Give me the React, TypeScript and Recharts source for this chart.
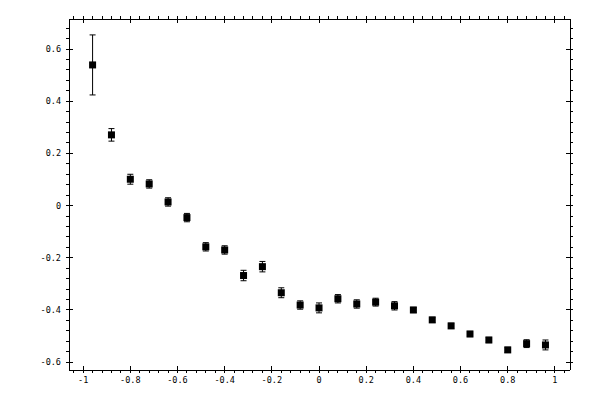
import { ScatterChart, Scatter, XAxis, YAxis, ErrorBar } from 'recharts';

// bin centres and measured values with their errors
const xBins = [
  -0.96, -0.88, -0.8, -0.72, -0.64, -0.56, -0.48, -0.4, -0.32, -0.24, -0.16, -0.08, 0,
  0.08, 0.16, 0.24, 0.32, 0.4, 0.48, 0.56, 0.64, 0.72, 0.8, 0.88, 0.96,
];
const yValues = [
  0.539, 0.271, 0.101, 0.083, 0.014, -0.046, -0.158, -0.17, -0.268, -0.234, -0.334, -0.381, -0.392,
  -0.357, -0.377, -0.37, -0.384, -0.4, -0.438, -0.461, -0.492, -0.515, -0.553, -0.529, -0.534,
];
const yErrors = [
  0.115, 0.024, 0.019, 0.016, 0.016, 0.016, 0.016, 0.016, 0.02, 0.02, 0.019, 0.016, 0.019,
  0.016, 0.016, 0.015, 0.016, 0.01, 0.01, 0.01, 0.01, 0.01, 0.01, 0.015, 0.019,
];

const xMajorTicks = [-1, -0.8, -0.6, -0.4, -0.2, 0, 0.2, 0.4, 0.6, 0.8, 1];
const yMajorTicks = [-0.6, -0.4, -0.2, 0, 0.2, 0.4, 0.6];

const xDomain = [-1.06, 1.064];
const yDomain = [-0.63, 0.715];

const data = xBins.map((x, i) => ({ x, y: yValues[i], err: yErrors[i] }));

// majors plus four minor ticks in between, clipped to the domain
function withMinors(majors: number[], domain: number[]) {
  const step = (majors[1] - majors[0]) / 5;
  const out: number[] = [];
  for (let k = -10; k < majors.length * 5 + 10; k++) {
    const v = Math.round((majors[0] + (k - 5) * step) * 1000) / 1000;
    if (v >= domain[0] && v <= domain[1] && !out.includes(v)) out.push(v);
  }
  return out.sort((a, b) => a - b);
}

const xTicks = withMinors(xMajorTicks, xDomain);
const yTicks = withMinors(yMajorTicks, yDomain);

const isMajor = (v: number) => Math.abs(v * 5 - Math.round(v * 5)) < 1e-6;
const fmt = (v: number) => String(Math.round(v * 10) / 10);

const font = { fontFamily: 'DejaVu Sans Mono', fontSize: 8.5, fill: '#000' };

function makeTick(side: 'bottom' | 'top' | 'left' | 'right') {
  return (props: any) => {
    const { x, y, payload } = props;
    const v = payload.value;
    const major = isMajor(v);
    const ln = { stroke: '#000', strokeWidth: 1, shapeRendering: 'crispEdges' as const };
    if (side === 'bottom') {
      return (
        <g>
          <line x1={x} x2={x} y1={major ? y - 4 : y} y2={y + 3} {...ln} />
          {major && <text x={x} y={y + 13} textAnchor="middle" {...font}>{fmt(v)}</text>}
        </g>
      );
    }
    if (side === 'top') {
      return <line x1={x} x2={x} y1={y - 3} y2={major ? y + 4 : y} {...ln} />;
    }
    if (side === 'left') {
      return (
        <g>
          <line x1={x - 3} x2={major ? x + 4 : x} y1={y} y2={y} {...ln} />
          {major && <text x={x - 8} y={y + 3} textAnchor="end" {...font}>{fmt(v)}</text>}
        </g>
      );
    }
    return <line x1={major ? x - 4 : x} x2={x + 3} y1={y} y2={y} {...ln} />;
  };
}

const SquareMarker = (props: any) => {
  const { cx, cy } = props;
  return <rect x={cx - 3.5} y={cy - 3.5} width={7} height={7} fill="#000" />;
};

const Nothing = () => <g />;

export default function App() {
  const axisLine = { stroke: '#000', strokeWidth: 1, shapeRendering: 'crispEdges' };
  return (
    <div style={{ position: 'absolute', left: 0, top: 0, background: '#fff' }}>
      <ScatterChart width={600} height={400} margin={{ top: 0, right: 0, bottom: 0, left: 0 }}>
        <XAxis
          xAxisId="b"
          type="number"
          dataKey="x"
          orientation="bottom"
          domain={xDomain}
          allowDataOverflow
          ticks={xTicks}
          interval={0}
          height={30}
          tickSize={0}
          tickMargin={0}
          tickLine={false}
          axisLine={axisLine}
          tick={makeTick('bottom')}
        />
        <XAxis
          xAxisId="t"
          type="number"
          dataKey="x"
          orientation="top"
          domain={xDomain}
          allowDataOverflow
          ticks={xTicks}
          interval={0}
          height={19}
          tickSize={0}
          tickMargin={0}
          tickLine={false}
          axisLine={axisLine}
          tick={makeTick('top')}
        />
        <YAxis
          yAxisId="l"
          type="number"
          dataKey="y"
          orientation="left"
          domain={yDomain}
          allowDataOverflow
          ticks={yTicks}
          interval={0}
          width={69}
          tickSize={0}
          tickMargin={0}
          tickLine={false}
          axisLine={axisLine}
          tick={makeTick('left')}
        />
        <YAxis
          yAxisId="r"
          type="number"
          dataKey="y"
          orientation="right"
          domain={yDomain}
          allowDataOverflow
          ticks={yTicks}
          interval={0}
          width={30}
          tickSize={0}
          tickMargin={0}
          tickLine={false}
          axisLine={axisLine}
          tick={makeTick('right')}
        />
        <Scatter
          data={data}
          xAxisId="t"
          yAxisId="r"
          shape={Nothing}
          isAnimationActive={false}
        />
        <Scatter
          data={data}
          xAxisId="b"
          yAxisId="l"
          shape={SquareMarker}
          isAnimationActive={false}
        >
          <ErrorBar dataKey="err" direction="y" width={3} stroke="#000" strokeWidth={1} />
        </Scatter>
      </ScatterChart>
    </div>
  );
}
